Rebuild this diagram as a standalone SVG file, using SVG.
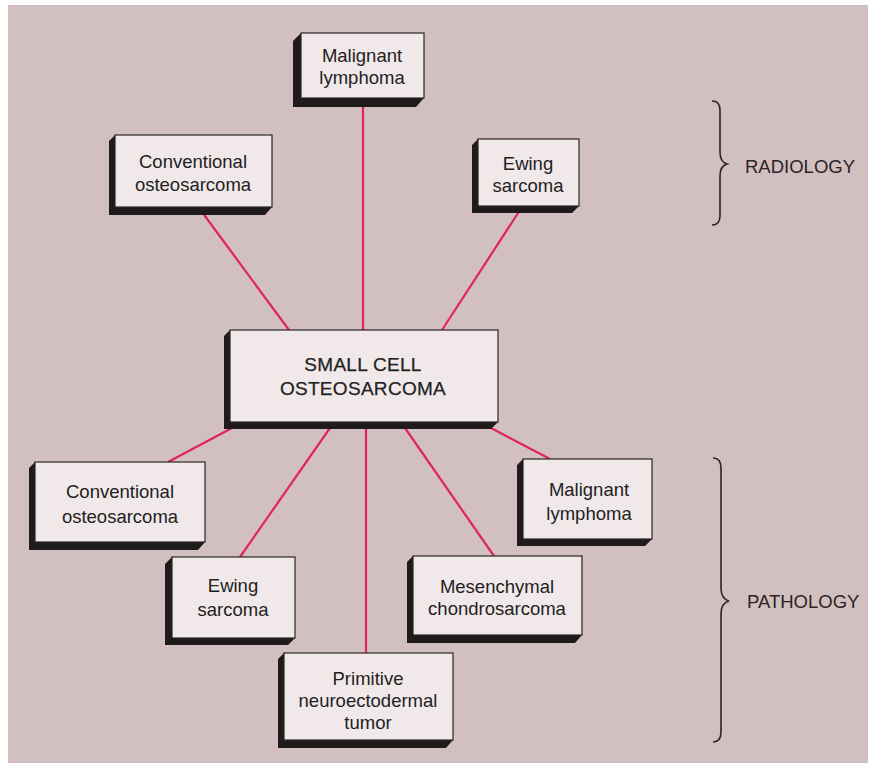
<svg xmlns="http://www.w3.org/2000/svg" width="872" height="768" viewBox="0 0 872 768">
  <style>
    .face { fill: #f1e8ea; stroke: #2a2526; stroke-width: 1.2; }
    .shade { fill: #1f1b1c; }
    .lbl { font-family: "Liberation Sans", Arial, sans-serif; font-size: 18.5px; fill: #222; text-anchor: middle; }
    .main { font-family: "Liberation Sans", Arial, sans-serif; font-size: 19px; fill: #222; stroke: #222; stroke-width: 0.25; text-anchor: middle; letter-spacing: 0.3px; }
    .side { font-family: "Liberation Sans", Arial, sans-serif; font-size: 18.5px; fill: #2a2526; }
    .link { stroke: #e0245e; stroke-width: 2.2; fill: none; }
    .brace { stroke: #2a2526; stroke-width: 1.6; fill: none; }
  </style>
  <rect x="0" y="0" width="872" height="768" fill="#ffffff"/>
  <rect x="8" y="5" width="860" height="758" fill="#d2bfc0"/>

  <!-- connectors -->
  <g id="connectors">
    <line class="link" x1="363" y1="100" x2="363" y2="330"/>
    <line class="link" x1="202" y1="212" x2="289" y2="330"/>
    <line class="link" x1="520" y1="210" x2="442" y2="330"/>
    <line class="link" x1="232" y1="428" x2="168" y2="462"/>
    <line class="link" x1="330" y1="428" x2="240" y2="557"/>
    <line class="link" x1="366" y1="428" x2="366" y2="653"/>
    <line class="link" x1="405" y1="428" x2="494" y2="556"/>
    <line class="link" x1="491" y1="428" x2="550" y2="459"/>
  </g>

  <!-- radiology row -->
  <g id="rad-lymphoma">
    <polygon class="shade" points="301,33 293,41 293,107 416,107 424,98 301,98"/>
    <rect class="face" x="301" y="33" width="123" height="65"/>
    <text class="lbl" x="362" y="62">Malignant</text>
    <text class="lbl" x="362" y="84">lymphoma</text>
  </g>
  <g id="rad-conventional">
    <polygon class="shade" points="115,135 109,141 109,215 265,215 272,207 115,207"/>
    <rect class="face" x="115" y="135" width="157" height="72"/>
    <text class="lbl" x="193" y="168">Conventional</text>
    <text class="lbl" x="193" y="191">osteosarcoma</text>
  </g>
  <g id="rad-ewing">
    <polygon class="shade" points="478,139 472,145 472,213 572,213 579,206 478,206"/>
    <rect class="face" x="478" y="139" width="101" height="67"/>
    <text class="lbl" x="528" y="170">Ewing</text>
    <text class="lbl" x="528" y="192">sarcoma</text>
  </g>

  <!-- central node -->
  <g id="center">
    <polygon class="shade" points="230,330 224,336 224,429 491,429 498,422 230,422"/>
    <rect class="face" x="230" y="330" width="268" height="92"/>
    <text class="main" x="363" y="371">SMALL CELL</text>
    <text class="main" x="363" y="395">OSTEOSARCOMA</text>
  </g>

  <!-- pathology row -->
  <g id="path-conventional">
    <polygon class="shade" points="35,462 29,468 29,550 198,550 205,542 35,542"/>
    <rect class="face" x="35" y="462" width="170" height="80"/>
    <text class="lbl" x="120" y="498">Conventional</text>
    <text class="lbl" x="120" y="523">osteosarcoma</text>
  </g>
  <g id="path-ewing">
    <polygon class="shade" points="172,557 165,564 165,645 288,645 295,638 172,638"/>
    <rect class="face" x="172" y="557" width="123" height="81"/>
    <text class="lbl" x="233" y="592">Ewing</text>
    <text class="lbl" x="233" y="616">sarcoma</text>
  </g>
  <g id="path-pnet">
    <polygon class="shade" points="284,653 278,659 278,748 446,748 453,740 284,740"/>
    <rect class="face" x="284" y="653" width="169" height="87"/>
    <text class="lbl" x="368" y="685">Primitive</text>
    <text class="lbl" x="368" y="707">neuroectodermal</text>
    <text class="lbl" x="368" y="729">tumor</text>
  </g>
  <g id="path-mesenchymal">
    <polygon class="shade" points="413,556 407,562 407,643 575,643 582,635 413,635"/>
    <rect class="face" x="413" y="556" width="169" height="79"/>
    <text class="lbl" x="497" y="593">Mesenchymal</text>
    <text class="lbl" x="497" y="615">chondrosarcoma</text>
  </g>
  <g id="path-lymphoma">
    <polygon class="shade" points="523,459 517,465 517,546 645,546 652,539 523,539"/>
    <rect class="face" x="523" y="459" width="129" height="80"/>
    <text class="lbl" x="589" y="496">Malignant</text>
    <text class="lbl" x="589" y="520">lymphoma</text>
  </g>

  <!-- category braces -->
  <g id="radiology">
    <path class="brace" d="M712,101 Q720,101 720,110 L720,152 Q720,162 727,164 Q720,166 720,176 L720,216 Q720,225 712,225"/>
    <text class="side" x="745" y="173">RADIOLOGY</text>
  </g>
  <g id="pathology">
    <path class="brace" d="M713,458 Q721,458 721,468 L721,588 Q721,599 729,601 Q721,603 721,614 L721,732 Q721,742 713,742"/>
    <text class="side" x="747" y="608">PATHOLOGY</text>
  </g>
</svg>
